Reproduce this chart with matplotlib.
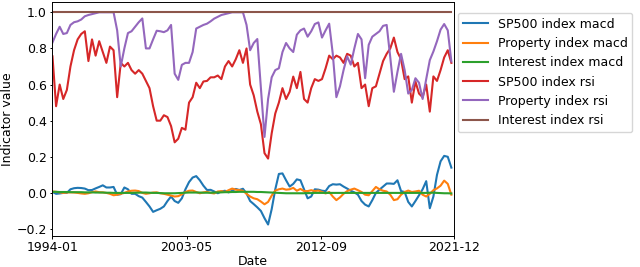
import numpy as np
import pandas as pd
import matplotlib
matplotlib.use("Agg")
import matplotlib.pyplot as plt

months = pd.period_range("1994-01", "2021-12", freq="M")
step = 3

sp500_macd = [
    0.005, -0.005, -0.003, 0.0, 0.0, 0.02, 0.026, 0.028, 0.027, 0.024,
    0.015, 0.016, 0.025, 0.033, 0.042, 0.03, 0.03, 0.033, -0.01, -0.007,
    0.03, 0.02, -0.005, -0.005, -0.018, -0.026, -0.05, -0.075, -0.105, -0.096,
    -0.088, -0.075, -0.045, -0.02, -0.045, -0.055, -0.03, 0.02, 0.06, 0.085,
    0.093, 0.07, 0.04, 0.016, 0.017, 0.008, -0.002, 0.008, 0.012, 0.003,
    0.012, 0.022, 0.016, 0.023, -0.003, -0.045, -0.062, -0.08, -0.1, -0.14,
    -0.175, -0.09, 0.02, 0.105, 0.108, 0.07, 0.035, 0.05, 0.075, 0.07,
    0.02, -0.03, -0.02, 0.02, 0.018, 0.012, 0.01, 0.038, 0.048, 0.046,
    0.048, 0.035, 0.024, 0.012, 0.003, -0.01, -0.045, -0.065, -0.075, -0.04,
    0.0, 0.018, 0.035, 0.052, 0.052, 0.05, 0.07, 0.01, 0.005, -0.05,
    -0.075, -0.045, -0.013, 0.02, 0.065, -0.085, -0.02, 0.1, 0.175, 0.205,
    0.2, 0.14,
]
property_macd = [
    0.008, 0.006, 0.003, 0.0, 0.002, 0.003, 0.002, 0.0, -0.003, -0.005,
    -0.002, 0.004, 0.008, 0.004, 0.003, 0.0, -0.005, -0.013, -0.01, -0.005,
    0.0, 0.008, 0.012, 0.013, 0.01, 0.0, -0.005, -0.002, 0.002, 0.003,
    -0.002, -0.005, -0.01, -0.015, -0.02, -0.018, -0.008, 0.005, 0.012, 0.013,
    0.005, -0.002, 0.003, 0.006, 0.0, -0.003, 0.008, 0.01, 0.005, 0.015,
    0.024, 0.018, 0.015, 0.012, -0.005, -0.02, -0.03, -0.035, -0.048, -0.063,
    -0.05, -0.015, 0.013, 0.02, 0.024, 0.018, 0.02, 0.028, 0.012, 0.022,
    0.01, 0.01, 0.015, 0.01, 0.013, 0.005, -0.003, 0.005, -0.02, -0.04,
    -0.025, -0.005, 0.01, 0.018, 0.024, 0.015, 0.005, -0.01, -0.013, 0.01,
    0.033, 0.02, 0.012, 0.008, -0.01, -0.04, -0.035, -0.01, 0.005, 0.013,
    0.005, 0.008, 0.012, -0.01, -0.02, -0.005, 0.015, 0.025, 0.04, 0.068,
    0.05, -0.01,
]
interest_macd = [
    0.006, 0.006, 0.005, 0.005, 0.005, 0.004, 0.004, 0.004, 0.004, 0.003,
    0.003, 0.003, 0.002, 0.002, 0.002, 0.001, 0.001, 0.0, 0.0, 0.0,
    0.0, 0.0, 0.0, 0.001, 0.001, 0.002, 0.002, 0.001, 0.0, 0.0,
    -0.001, -0.002, -0.002, -0.002, -0.002, -0.001, 0.0, 0.001, 0.002, 0.002,
    0.002, 0.002, 0.001, 0.001, 0.001, 0.002, 0.003, 0.003, 0.004, 0.004,
    0.005, 0.005, 0.006, 0.006, 0.006, 0.006, 0.006, 0.005, 0.005, 0.004,
    0.003, 0.002, 0.001, 0.0, -0.001, -0.002, -0.002, -0.002, -0.002, -0.002,
    -0.002, -0.001, -0.001, 0.0, 0.0, 0.0, 0.0, 0.0, 0.0, 0.0,
    0.0, 0.0, 0.0, 0.0, 0.0, 0.0, 0.0, 0.0, 0.0, 0.0,
    0.0, 0.0, 0.0, 0.0, 0.0, 0.0, 0.0, 0.0, 0.0, 0.0,
    0.0, 0.0, 0.0, 0.0, 0.0, 0.001, 0.001, 0.0, -0.001, -0.002,
    -0.002, -0.003,
]
sp500_rsi = [
    0.756, 0.48, 0.60, 0.52, 0.57, 0.70, 0.79, 0.85, 0.88, 0.895,
    0.73, 0.85, 0.76, 0.84, 0.78, 0.72, 0.81, 0.79, 0.53, 0.72,
    0.70, 0.72, 0.68, 0.66, 0.68, 0.66, 0.62, 0.58, 0.48, 0.40,
    0.40, 0.43, 0.42, 0.37, 0.28, 0.30, 0.36, 0.35, 0.50, 0.53,
    0.61, 0.58, 0.617, 0.62, 0.64, 0.64, 0.65, 0.63, 0.70, 0.73,
    0.70, 0.74, 0.79, 0.72, 0.80, 0.60, 0.54, 0.45, 0.38, 0.22,
    0.19, 0.33, 0.44, 0.50, 0.58, 0.52, 0.56, 0.644, 0.58, 0.67,
    0.52, 0.50, 0.58, 0.63, 0.62, 0.63, 0.69, 0.76, 0.74, 0.76,
    0.75, 0.72, 0.77, 0.76, 0.70, 0.72, 0.58, 0.60, 0.48, 0.58,
    0.59, 0.66, 0.73, 0.77, 0.80, 0.86, 0.78, 0.74, 0.63, 0.645,
    0.50, 0.617, 0.55, 0.53, 0.60, 0.45, 0.645, 0.62, 0.68, 0.75,
    0.79, 0.72,
]
property_rsi = [
    0.833, 0.88, 0.92, 0.88, 0.885, 0.93, 0.945, 0.95, 0.96, 0.978,
    0.985, 0.99, 0.995, 1.0, 1.0, 1.0, 1.0, 1.0, 0.90, 0.70,
    0.80, 0.885, 0.895, 0.92, 0.945, 0.966, 0.80, 0.80, 0.85, 0.898,
    0.895, 0.89, 0.90, 0.93, 0.66, 0.626, 0.709, 0.72, 0.72, 0.78,
    0.91, 0.92, 0.93, 0.937, 0.95, 0.965, 0.975, 0.985, 0.99, 0.995,
    1.0, 1.0, 1.0, 1.0, 0.93, 0.79, 0.83, 0.852, 0.58, 0.31,
    0.52, 0.64, 0.68, 0.69, 0.78, 0.83, 0.80, 0.78, 0.876, 0.90,
    0.91, 0.865, 0.895, 0.935, 0.944, 0.86, 0.90, 0.937, 0.77, 0.53,
    0.59, 0.68, 0.756, 0.71, 0.80, 0.88, 0.85, 0.635, 0.82, 0.865,
    0.88, 0.895, 0.925, 0.93, 0.75, 0.56, 0.67, 0.77, 0.68, 0.55,
    0.57, 0.635, 0.61, 0.52, 0.63, 0.735, 0.783, 0.84, 0.904, 0.935,
    0.90, 0.728,
]
interest_rsi = [1.0] * len(sp500_rsi)

series = [
    ("SP500 index macd", sp500_macd),
    ("Property index macd", property_macd),
    ("Interest index macd", interest_macd),
    ("SP500 index rsi", sp500_rsi),
    ("Property index rsi", property_rsi),
    ("Interest index rsi", interest_rsi),
]

# Bild wurde offenbar verkleinert -> Ticks und Abstaende kleiner
plt.rcParams.update({
    "font.size": 9,
    "lines.linewidth": 1.5,
    "axes.linewidth": 0.7,
    "xtick.major.size": 1.8,
    "ytick.major.size": 1.8,
    "xtick.major.width": 0.7,
    "ytick.major.width": 0.7,
    "xtick.major.pad": 2.2,
    "ytick.major.pad": 2.2,
})

x = np.arange(0, len(months), step)

fig = plt.figure(figsize=(6.4, 2.67), dpi=100)
ax = fig.add_axes([0.082, 0.1172, 0.627, 0.8753])

for name, vals in series:
    ax.plot(x, vals, label=name)

ax.set_xlim(0, len(months) - 1)
ax.set_ylim(-0.237, 1.057)
tick_idx = [0, 112, 224, 335]
ax.set_xticks(tick_idx)
ax.set_xticklabels([months[i].strftime("%Y-%m") for i in tick_idx])
ax.set_yticks([-0.2, 0.0, 0.2, 0.4, 0.6, 0.8, 1.0])
ax.set_xlabel("Date", labelpad=0.5)
ax.set_ylabel("Indicator value", labelpad=2)

fig.legend(loc="upper left", bbox_to_anchor=(0.715, 0.952), borderaxespad=0)

fig.savefig("out.png", dpi=100)
